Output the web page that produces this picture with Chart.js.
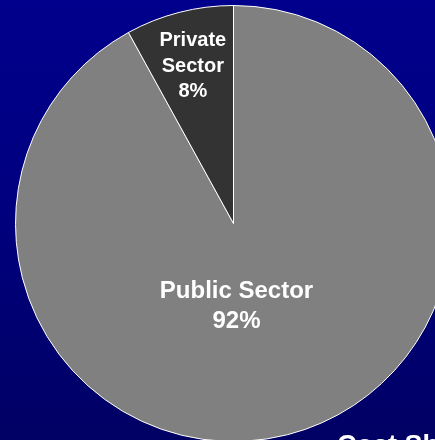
<!DOCTYPE html>
<html>
<head>
<meta charset="utf-8">
<script src="https://cdn.jsdelivr.net/npm/chart.js@4/dist/chart.umd.min.js"></script>
<style>
  html, body {
    margin: 0;
    padding: 0;
    width: 435px;
    height: 440px;
    overflow: hidden;
    background: linear-gradient(to bottom, #00008c 0%, #000080 45%, #000064 100%);
  }
  #wrap { position: absolute; left: 0; top: 0; width: 470px; height: 460px; }
</style>
</head>
<body>
<div id="wrap"><canvas id="pie" width="470" height="460"></canvas></div>
<script>
// funding split
var sectors = ['Public Sector', 'Private Sector'];
var shares = [92, 8];
var sliceColors = ['#808080', '#333333'];
var caption = 'Cost Share';

// slice labels: name broken over lines, then the percentage
var sliceLabels = {
    id: 'sliceLabels',
    afterDatasetsDraw(chart) {
        var ctx = chart.ctx;
        var arcs = chart.getDatasetMeta(0).data;
        ctx.save();
        ctx.fillStyle = '#ffffff';
        ctx.textAlign = 'center';
        ctx.textBaseline = 'middle';
        arcs.forEach(function (arc, i) {
            var p = arc.getProps(['x', 'y', 'startAngle', 'endAngle', 'outerRadius'], true);
            var big = shares[i] > 50;
            var lines, size, lh, cx, cy;
            if (big) {
                lines = [sectors[i], shares[i] + '%'];
                size = 24; lh = 30;
                cx = p.x + 3;
                cy = p.y + p.outerRadius * 0.375;
            } else {
                lines = sectors[i].split(' ').concat([shares[i] + '%']);
                size = 20; lh = 25.5;
                var mid = (p.startAngle + p.endAngle) / 2;
                cx = p.x + Math.cos(mid) * p.outerRadius * 0.75;
                cy = p.y + Math.sin(mid) * p.outerRadius * 0.75;
            }
            ctx.font = 'bold ' + size + 'px "Liberation Sans", Arial, sans-serif';
            var top = cy - (lines.length - 1) * lh / 2;
            lines.forEach(function (t, k) {
                ctx.fillText(t, cx, top + k * lh + 1);
            });
        });

        // caption running off the bottom right
        ctx.textAlign = 'left';
        ctx.textBaseline = 'alphabetic';
        ctx.font = 'bold 27px "Liberation Sans", Arial, sans-serif';
        ctx.fillText(caption, 337, 454);
        ctx.restore();
    }
};

new Chart(document.getElementById('pie').getContext('2d'), {
    type: 'pie',
    data: {
        labels: sectors,
        datasets: [{
            data: shares,
            backgroundColor: sliceColors,
            borderColor: '#ffffff',
            borderWidth: 1
        }]
    },
    options: {
        responsive: false,
        animation: false,
        layout: { padding: { left: 15, top: 5, right: 18, bottom: 18 } },
        plugins: {
            legend: { display: false },
            tooltip: { enabled: false }
        }
    },
    plugins: [sliceLabels]
});
</script>
</body>
</html>
